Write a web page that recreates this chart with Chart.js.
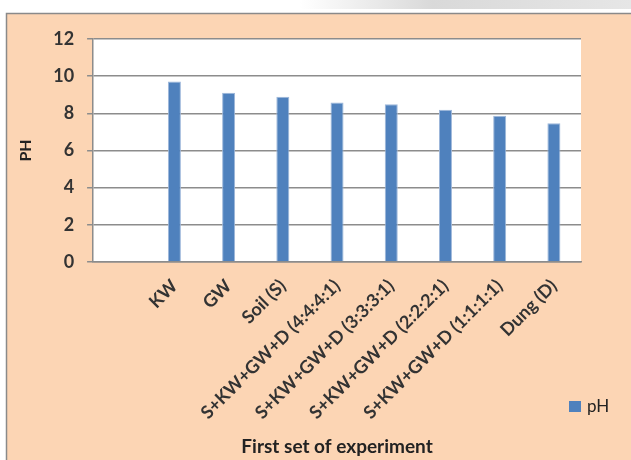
<!DOCTYPE html>
<html>
<head>
<meta charset="utf-8">
<script src="https://cdn.jsdelivr.net/npm/chart.js@4.4.1/dist/chart.umd.min.js"></script>
<style>
  html, body { margin: 0; padding: 0; background: #fff; }
  #wrap { position: relative; width: 631px; height: 460px; overflow: hidden; }
  #strip { position: absolute; left: 300px; top: 0; width: 331px; height: 9px;
           background: linear-gradient(to right, #fff, #d9d9d9 40%, #e6e6e6); }
  canvas { position: absolute; left: 0; top: 0; }
</style>
</head>
<body>
<div id="wrap">
  <div id="strip"></div>
  <canvas id="chart-bar" width="631" height="460"></canvas>
</div>
<script>
// chart values
var categories = ['', 'KW', 'GW', 'Soil (S)', 'S+KW+GW+D (4:4:4:1)', 'S+KW+GW+D (3:3:3:1)',
  'S+KW+GW+D (2:2:2:1)', 'S+KW+GW+D (1:1:1:1)', 'Dung (D)'];
var phValues = [null, 9.71, 9.10, 8.89, 8.58, 8.49, 8.19, 7.87, 7.46];
var yTicks = [0, 2, 4, 6, 8, 10, 12];

var peach = '#FCD5B4';
var gridGray = '#8c8c8c';
var textColor = '#333333';

// peach frame + white plot area
var background = {
  id: 'background',
  beforeDraw: function(chart) {
    var ctx = chart.ctx;
    var a = chart.chartArea;
    ctx.save();
    ctx.fillStyle = peach;
    ctx.fillRect(6, 13, 700, 500);
    ctx.strokeStyle = '#8a8a8a';
    ctx.lineWidth = 1.5;
    ctx.strokeRect(6.5, 13.5, 700, 500);
    ctx.fillStyle = '#ffffff';
    ctx.fillRect(a.left, a.top, a.right - a.left, a.bottom - a.top);
    ctx.restore();
  }
};

// legend sits below the plot at the right
var sideLegend = {
  id: 'sideLegend',
  afterDraw: function(chart) {
    var ds = chart.data.datasets[0];
    var ctx = chart.ctx;
    var x = chart.chartArea.right - 12;
    var y = 407;
    ctx.save();
    ctx.fillStyle = ds.backgroundColor;
    ctx.fillRect(x, y - 6, 12, 11);
    ctx.fillStyle = '#222';
    ctx.font = '17px Lato';
    ctx.textBaseline = 'middle';
    ctx.fillText(ds.label, x + 18, y);
    ctx.restore();
  }
};

new Chart(document.getElementById('chart-bar'), {
  type: 'bar',
  data: {
    labels: categories,
    datasets: [{
      label: 'pH',
      data: phValues,
      backgroundColor: '#4F81BD',
      borderColor: '#9DB7DA',
      borderWidth: 1,
      barPercentage: 0.24,
      categoryPercentage: 1
    }]
  },
  options: {
    responsive: false,
    animation: false,
    layout: { padding: { left: 8, top: 39, right: 50, bottom: 4 } },
    plugins: {
      legend: { display: false },
      tooltip: { enabled: false }
    },
    scales: {
      x: {
        grid: { display: false, drawTicks: false },
        border: { color: gridGray, width: 1.5 },
        ticks: {
          autoSkip: false,
          maxRotation: 45,
          minRotation: 45,
          padding: 13.5,
          color: textColor,
          font: { family: 'Lato', size: 18, weight: 'bold' }
        },
        title: {
          display: true,
          text: 'First set of experiment',
          color: '#222',
          padding: 0,
          font: { family: 'Lato', size: 19, weight: 'bold', lineHeight: 1 }
        }
      },
      y: {
        min: 0,
        max: 12,
        afterBuildTicks: function(axis) {
          axis.ticks = yTicks.map(function(v) { return { value: v }; });
        },
        grid: { color: gridGray, lineWidth: 1.5, tickLength: 6 },
        border: { color: gridGray, width: 1.5 },
        ticks: {
          padding: 13,
          color: textColor,
          font: { family: 'Lato', size: 18, weight: 'bold' }
        },
        title: {
          display: true,
          text: 'PH',
          color: '#222',
          padding: { top: 8, bottom: 5 },
          font: { family: 'Lato', size: 16, weight: 'bold' }
        }
      }
    }
  },
  plugins: [background, sideLegend]
});
</script>
</body>
</html>
